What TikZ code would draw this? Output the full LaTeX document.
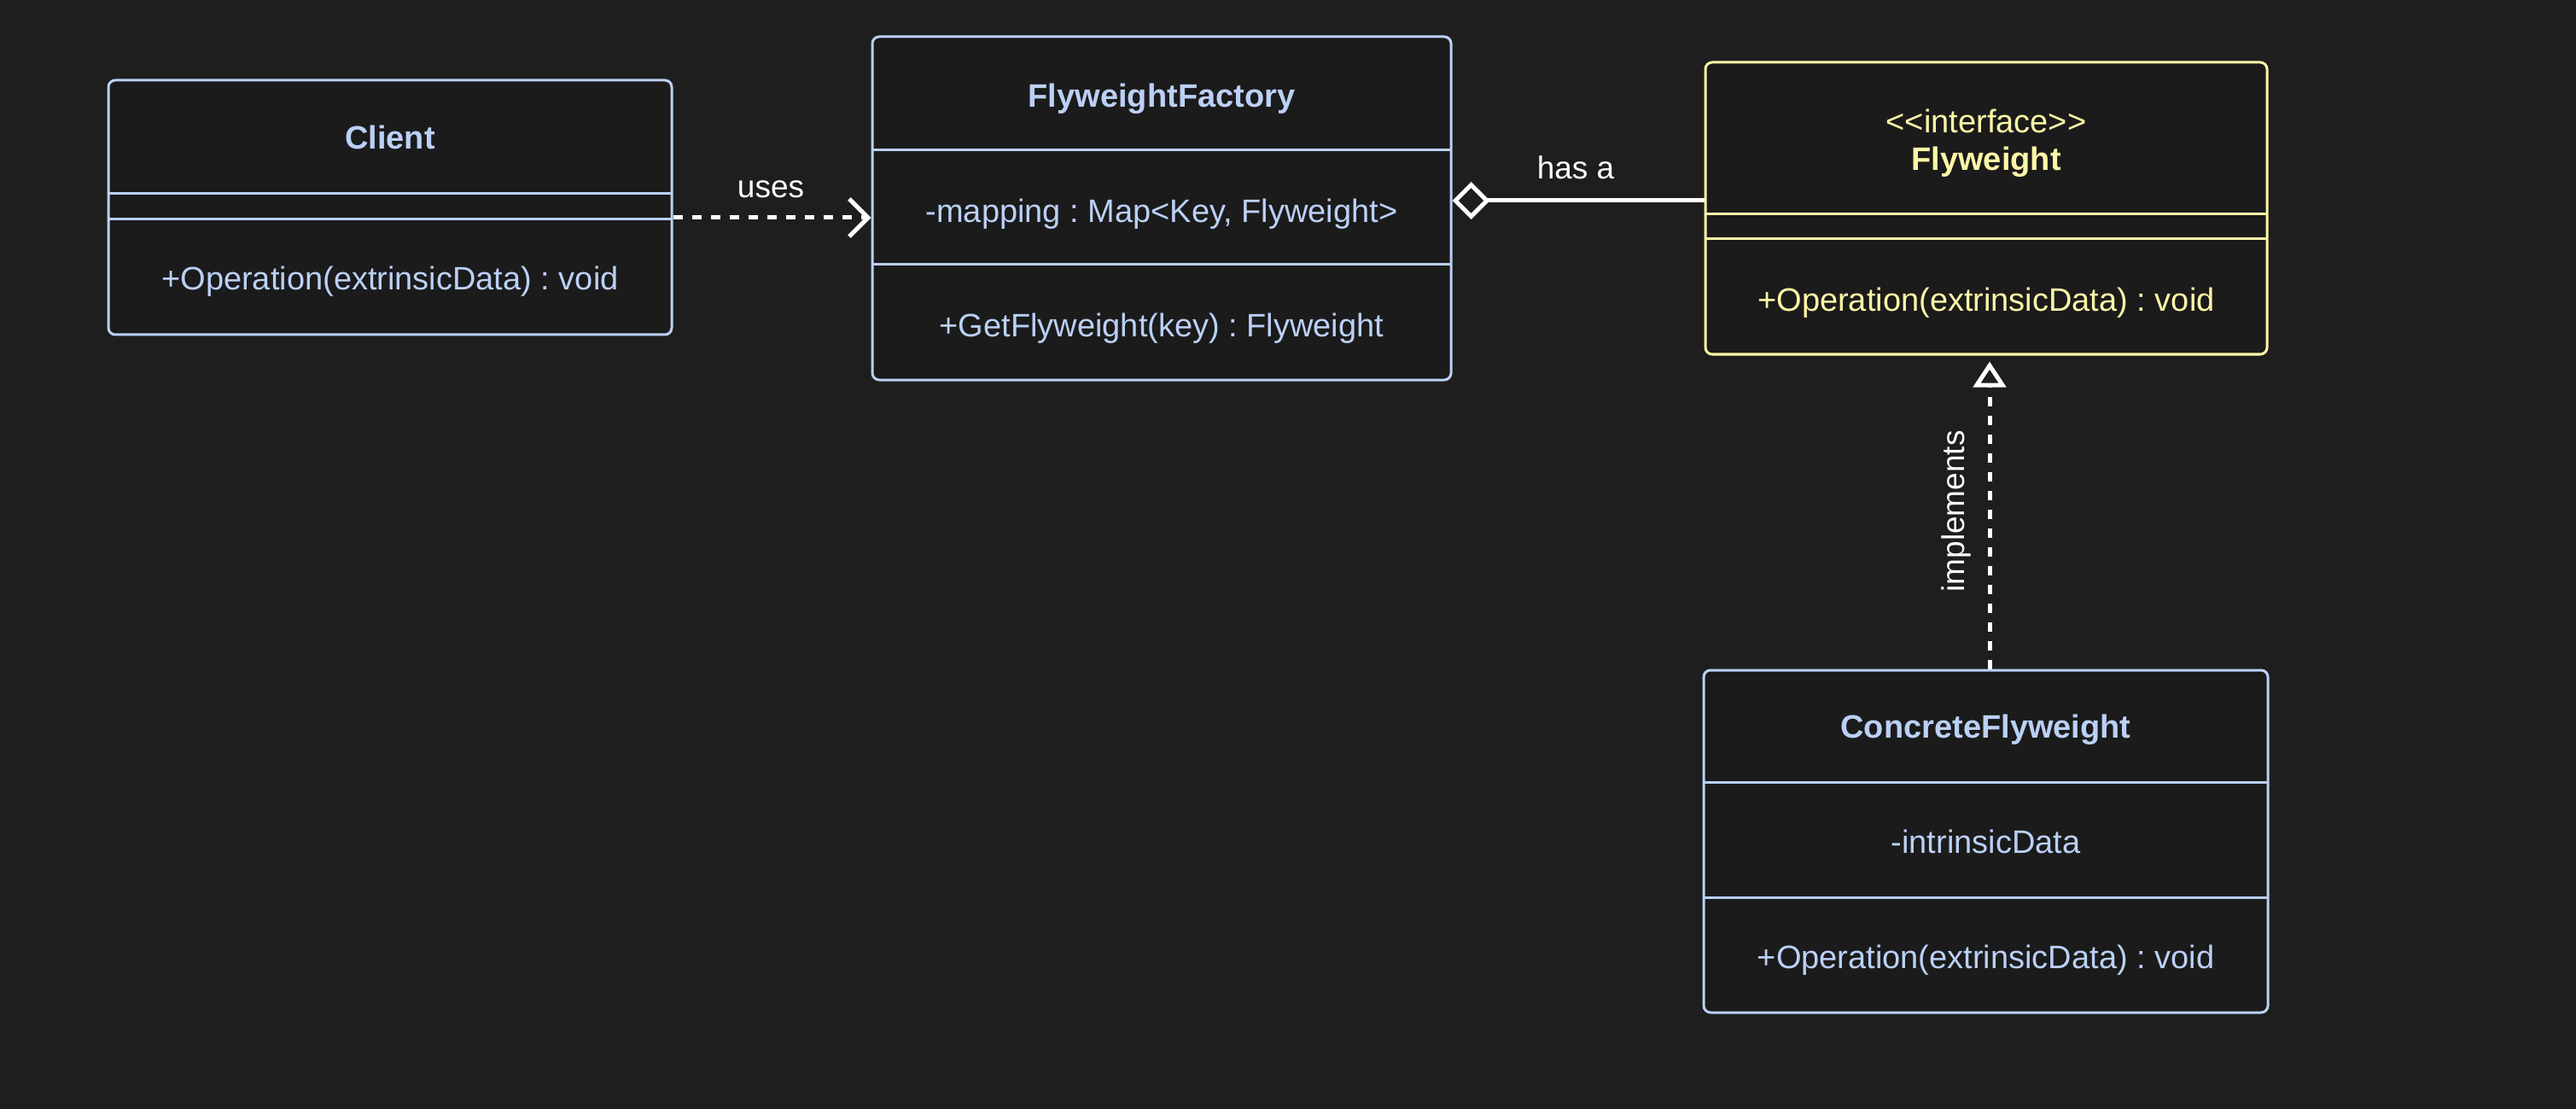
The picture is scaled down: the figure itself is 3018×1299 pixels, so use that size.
\documentclass[tikz,border=0pt]{standalone}
\usepackage{fontspec}
\setmainfont{Liberation Sans}
\usetikzlibrary{arrows.meta}
\definecolor{bg}{RGB}{30,30,30}
\definecolor{boxfill}{RGB}{27,27,27}
\definecolor{umlblue}{RGB}{187,208,246}
\definecolor{umlyellow}{RGB}{255,247,168}
\frenchspacing
\begin{document}
\begin{tikzpicture}[x=0.5pt,y=-0.5pt,
  umlbox/.style={draw=umlblue, fill=boxfill, line width=1.5pt, rounded corners=4pt, inner sep=0pt},
  ifbox/.style={umlbox, draw=umlyellow},
  divb/.style={draw=umlblue, line width=1.5pt},
  divy/.style={draw=umlyellow, line width=1.5pt},
  txt/.style={inner sep=0pt, font=\fontsize{19pt}{23pt}\selectfont, text=umlblue, text height=13.6pt, text depth=0pt},
  ytxt/.style={txt, text=umlyellow},
  lbl/.style={inner sep=0pt, font=\fontsize{18.5pt}{22pt}\selectfont, text=white},
  conn/.style={draw=white, line width=2.5pt},
  dashconn/.style={conn, dash pattern=on 5.5pt off 5.5pt}
]
\fill[bg] (0,0) rectangle (3018,1299);
\useasboundingbox (0,0) rectangle (3018,1299);

% boxes
\node[umlbox, minimum width=330pt, minimum height=149pt] (client) at (457,243) {};
\node[umlbox, minimum width=339pt, minimum height=201pt] (factory) at (1361,244) {};
\node[ifbox, minimum width=329pt, minimum height=171pt] (fly) at (2327,244) {};
\node[umlbox, minimum width=330.5pt, minimum height=200.5pt] (concrete) at (2326.5,985.5) {};

% compartments
\draw[divb] (127,227) -- (787,227);
\draw[divb] (127,257) -- (787,257);
\draw[divb] (1022,176) -- (1700,176);
\draw[divb] (1022,310) -- (1700,310);
\draw[divy] (1998,251) -- (2656,251);
\draw[divy] (1998,280) -- (2656,280);
\draw[divb] (1996,916) -- (2657,916);
\draw[divb] (1996,1051) -- (2657,1051);

% texts
\node[txt] (clientname) at (457,161) {\bfseries Client};
\node[txt] (clientop) at (457,326) {+Operation(extrinsicData) : void};
\node[txt] (factname) at (1361,112) {\bfseries FlyweightFactory};
\node[txt] (factattr) at (1361,247) {-mapping : Map<Key, Flyweight>};
\node[txt] (factop) at (1361,381) {+GetFlyweight(key) : Flyweight};
\node[ytxt] (flystereo) at (2327,142) {<{}<interface>{}>};
\node[ytxt] (flyname) at (2327,186) {\bfseries Flyweight};
\node[ytxt] (flyop) at (2327,351) {+Operation(extrinsicData) : void};
\node[txt] (concname) at (2326.5,851) {\bfseries ConcreteFlyweight};
\node[txt] (concattr) at (2326.5,986) {-intrinsicData};
\node[txt] (concop) at (2326.5,1121) {+Operation(extrinsicData) : void};

% connectors
\draw[dashconn, -{Straight Barb[length=11pt,width=22pt]}]
  ([yshift=-6pt]client.east) -- ([yshift=-6pt]client.east -| factory.west);
\node[lbl] (useslbl) at (903,222) {uses};

\draw[conn, {Diamond[open,length=22pt,width=22pt]}-]
  ([yshift=4.5pt]factory.east) -- ([yshift=4.5pt]factory.east -| fly.west);
\node[lbl] (hasalbl) at (1846,196) {has a};

\draw[dashconn, -{Triangle[open,length=15pt,width=19pt]}, shorten >=3.5pt]
  ([xshift=2.25pt]concrete.north) -- ([xshift=2.25pt]concrete.north |- fly.south);
\node[lbl, rotate=90] (impllbl) at (2292,599) {implements};
\end{tikzpicture}
\end{document}
